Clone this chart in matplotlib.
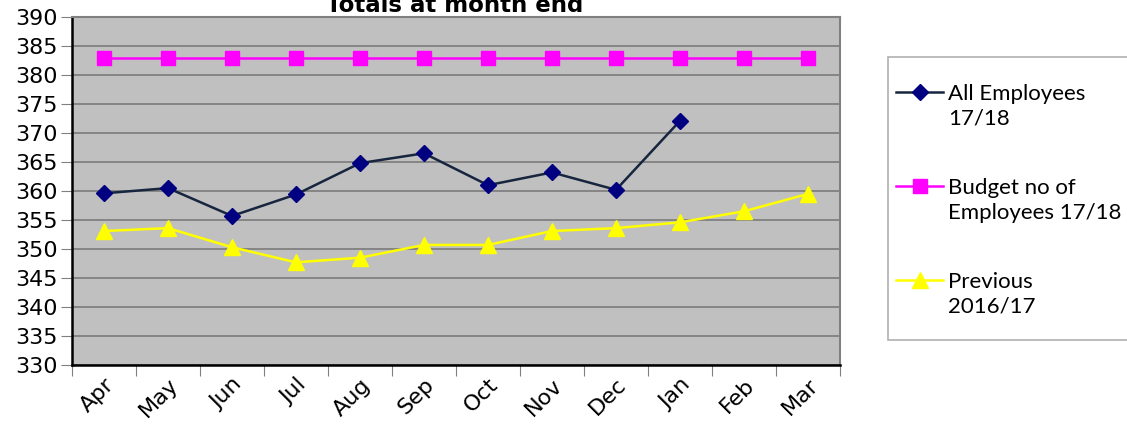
"""Staff totals at month end"""

import matplotlib

matplotlib.use("Agg")
from matplotlib import pyplot as plt
from matplotlib.lines import Line2D
from matplotlib.patches import Rectangle

months = ["Apr", "May", "Jun", "Jul", "Aug", "Sep",
          "Oct", "Nov", "Dec", "Jan", "Feb", "Mar"]
all_employees = [359.6, 360.5, 355.7, 359.4, 364.8, 366.5,
                 361.0, 363.2, 360.2, 372.1]
budget = [383.0] * 12
previous = [353.1, 353.6, 350.3, 347.7, 348.5, 350.7,
            350.7, 353.1, 353.6, 354.6, 356.5, 359.5]

series_labels = ["All Employees\n17/18", "Budget no of\nEmployees 17/18",
                 "Previous\n2016/17"]


def main():
    fig = plt.figure(figsize=(11.27, 4.34), dpi=100)
    W, H = 1127, 434
    ax = fig.add_axes([72 / W, 1 - 365 / H, (840 - 72) / W, (365 - 17) / H])
    ax.set_facecolor("#c0c0c0")

    x = list(range(len(months)))
    styles = [
        dict(color="#17253f", marker="D", markersize=8,
             markerfacecolor="#000080", markeredgecolor="#000080"),
        dict(color="#ff00ff", marker="s", markersize=10,
             markerfacecolor="#ff00ff", markeredgecolor="#ff00ff"),
        dict(color="#ffff00", marker="^", markersize=11,
             markerfacecolor="#ffff00", markeredgecolor="#ffff00"),
    ]
    data = [all_employees, budget, previous]
    for vals, st in zip(data, styles):
        ax.plot(x[:len(vals)], vals, linewidth=1.8, zorder=3, clip_on=False, **st)

    ax.set_xlim(-0.5, 11.5)
    ax.set_ylim(330, 390)
    ax.set_yticks(range(330, 391, 5))
    ax.yaxis.grid(True, color="#808080", linewidth=1.3)
    ax.set_axisbelow(True)

    ax.set_xticks([i - 0.5 for i in range(13)], minor=False)
    ax.set_xticklabels([])
    ax.set_xticks(x, minor=True)
    ax.set_xticklabels(months, minor=True, rotation=45, ha="right",
                       va="top", rotation_mode="anchor", fontsize=16)
    ax.tick_params(axis="x", which="minor", length=0, pad=7)
    ax.tick_params(axis="x", which="major", length=8, color="#808080",
                   direction="out")
    ax.tick_params(axis="y", length=8, color="#808080", labelsize=16, pad=2)

    for s in ["left", "bottom"]:
        ax.spines[s].set_color("black")
        ax.spines[s].set_linewidth(1.8)
    for s in ["top", "right"]:
        ax.spines[s].set_color("#808080")
        ax.spines[s].set_linewidth(1.5)

    fig.text(455 / W, 1 - 12 / H, "Totals at month end", ha="center",
             va="baseline", fontsize=16.5, fontweight="bold")

    # legend drawn by hand so the handle sits on the first text line
    fig.add_artist(Rectangle((888 / W, 1 - 340 / H), 300 / W, (340 - 57) / H,
                             transform=fig.transFigure, facecolor="white",
                             edgecolor="#b0b0b0", linewidth=1.2))
    for i, (label, st) in enumerate(zip(series_labels, styles)):
        yc = 92 + i * 94
        fig.add_artist(Line2D([896 / W, 919.5 / W, 943 / W], [1 - yc / H] * 3,
                              transform=fig.transFigure, linewidth=1.8,
                              markevery=[1], **st))
        fig.text(948 / W, 1 - (yc - 8) / H, label, ha="left", va="top",
                 fontsize=16, family="Lato", linespacing=1.3)

    fig.savefig("out.png", dpi=100)


if __name__ == "__main__":
    main()
